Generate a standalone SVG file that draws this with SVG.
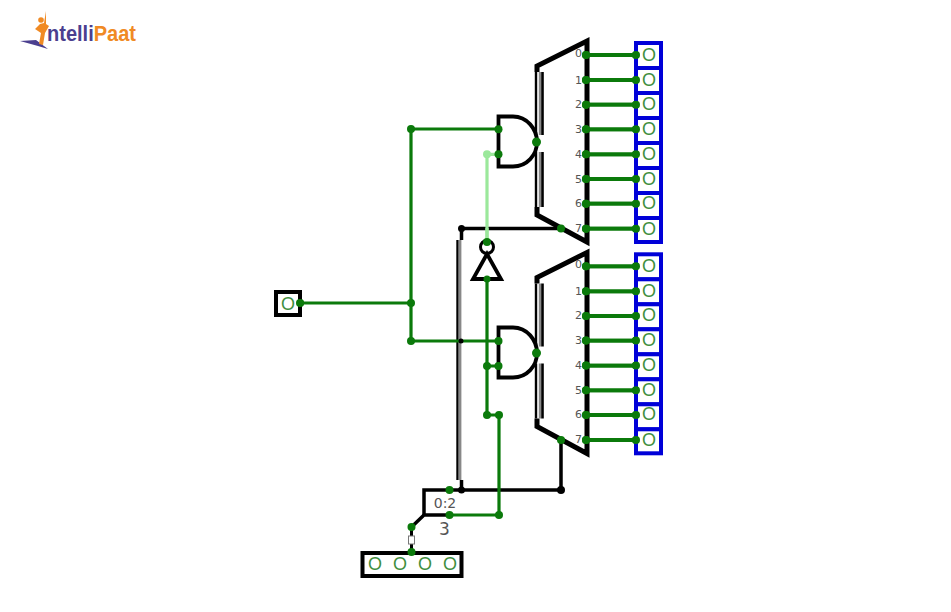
<svg xmlns="http://www.w3.org/2000/svg" width="951" height="612" viewBox="0 0 951 612">
<style>
text{font-family:"DejaVu Sans","Liberation Sans",sans-serif}
.w{fill:none;stroke:#0b7a0b;stroke-width:3.200}
.wt{fill:none;stroke:#0b7a0b;stroke-width:3.800}
.lw{fill:none;stroke:#9be89b;stroke-width:3.200}
.b{fill:none;stroke:#000;stroke-width:3.500}
.g{fill:#0b7a0b}
.k{fill:#000}
.v{fill:#3f8f3f;font-size:18px;text-anchor:middle;font-family:"Liberation Sans",sans-serif}
.n{fill:#555;font-size:11px;text-anchor:end}
.out{fill:#fff;stroke:#0000d8;stroke-width:4}
.gate{fill:#fff;stroke:#000;stroke-width:3.800}
</style>
<defs>
<g id="mux">
<path d="M537 66L587 41V242L537 215Z" fill="#fff" stroke="none"/>
<path d="M537 72V66L587 41V242L537 215V207" fill="none" stroke="#000" stroke-width="5"/>
<path d="M536 72V135M536 152V207" stroke="#000" stroke-width="2.400" fill="none"/>
<path d="M540 72V135M540 152V207" stroke="#888" stroke-width="2.400" fill="none"/>
<path d="M542.500 72V135M542.500 152V207" stroke="#000" stroke-width="2.600" fill="none"/>
</g>
<g id="labels">
<text class="n" x="582" y="57">0</text><text class="n" x="582" y="84">1</text><text class="n" x="582" y="108">2</text><text class="n" x="582" y="133">3</text><text class="n" x="582" y="158">4</text><text class="n" x="582" y="183">5</text><text class="n" x="582" y="207">6</text><text class="n" x="582" y="232">7</text>
</g>
<g id="andgate">
<path class="gate" d="M498.500 116.500H513C527 116.500 537 129 537 142C537 155 527 166.500 513 166.500H498.500Z"/>
</g>
<g id="outs">
<rect class="out" x="636" y="43" width="25" height="25"/><rect class="out" x="636" y="68" width="25" height="25"/><rect class="out" x="636" y="93" width="25" height="25"/><rect class="out" x="636" y="118" width="25" height="25"/><rect class="out" x="636" y="143" width="25" height="25"/><rect class="out" x="636" y="168" width="25" height="25"/><rect class="out" x="636" y="193" width="25" height="25"/><rect class="out" x="636" y="218" width="25" height="24"/>
<text class="v" x="649" y="61">O</text><text class="v" x="649" y="86">O</text><text class="v" x="649" y="110">O</text><text class="v" x="649" y="135">O</text><text class="v" x="649" y="160">O</text><text class="v" x="649" y="185">O</text><text class="v" x="649" y="209">O</text><text class="v" x="649" y="235">O</text>
</g>
<g id="outw">
<path class="wt" d="M586 55H636M586 80H636M586 104.700H636M586 129.300H636M586 154.300H636M586 179H636M586 203.700H636M586 228.700H636"/>
<g class="g"><circle cx="586" cy="55" r="4"/><circle cx="636" cy="55" r="4"/><circle cx="586" cy="80" r="4"/><circle cx="636" cy="80" r="4"/><circle cx="586" cy="104.700" r="4"/><circle cx="636" cy="104.700" r="4"/><circle cx="586" cy="129.300" r="4"/><circle cx="636" cy="129.300" r="4"/><circle cx="586" cy="154.300" r="4"/><circle cx="636" cy="154.300" r="4"/><circle cx="586" cy="179" r="4"/><circle cx="636" cy="179" r="4"/><circle cx="586" cy="203.700" r="4"/><circle cx="636" cy="203.700" r="4"/><circle cx="586" cy="228.700" r="4"/><circle cx="636" cy="228.700" r="4"/></g>
</g>
</defs>

<g id="logo">
<path d="M20 41L36 40L48 49L38 46Z" fill="#4b3f8f"/>
<path d="M46 11L46 24L49 26L45 33L43 45L39 44L41 33L35 29L40 24L44 23Z" fill="#f08a24"/>
<circle cx="41" cy="20" r="2.800" fill="#f08a24"/>
<text x="47" y="41" style="font-family:'Liberation Sans',sans-serif;font-weight:700;font-size:22px" textLength="89" lengthAdjust="spacingAndGlyphs"><tspan fill="#4b3f8f">ntelli</tspan><tspan fill="#f08a24">Paat</tspan></text>
</g>

<g id="mux-a"><use href="#mux"/><use href="#labels"/></g>
<g id="mux-b"><use href="#mux" transform="translate(0,211.500)"/><use href="#labels" transform="translate(0,211)"/></g>

<g id="connectors">
<path class="b" d="M461.500 240V228.500H561"/>
<path d="M457.500 240V480" stroke="#000" stroke-width="2.400" fill="none"/>
<path d="M460 240V480" stroke="#888" stroke-width="2.800" fill="none"/>
<path class="b" d="M461.500 480V490M561 440V490M424 515H450M424 515L411.500 527"/>
<path class="b" d="M424 515V490H561"/>
<path class="w" d="M300 303H411M411 129V341M411 129H498M411 341H498"/>
<path class="lw" d="M487 154.300H498M487 154.300V242"/>
<path class="w" d="M487 279V415H499M487 366H498M449.500 515H499V415"/>
<path d="M411.500 527V552" stroke="#000" stroke-width="3" fill="none"/>
<rect x="408.500" y="536" width="6" height="8" fill="#fff" stroke="#777" stroke-width="1"/>
<circle class="k" cx="461.500" cy="228.500" r="3.500"/>
<circle class="k" cx="461.500" cy="490" r="3.500"/>
<circle class="k" cx="561" cy="490" r="4"/>
<circle class="k" cx="461" cy="341" r="2.500"/>
<g class="g">
<circle cx="300" cy="303" r="4"/><circle cx="411" cy="303" r="4"/><circle cx="411" cy="129" r="4"/><circle cx="411" cy="341" r="4"/>
<circle cx="561" cy="228.500" r="4"/><circle cx="561" cy="440" r="4"/>
<circle cx="487" cy="366" r="4"/><circle cx="487" cy="415" r="4"/><circle cx="499" cy="415" r="4"/><circle cx="499" cy="515" r="4"/>
<circle cx="449.500" cy="490" r="4"/><circle cx="449.500" cy="515" r="4"/><circle cx="411.500" cy="527" r="4"/>
</g>
<circle cx="487" cy="154.300" r="4" fill="#9be89b"/>
<use href="#outw"/>
<use href="#outw" transform="translate(0,211.300)"/>
</g>

<g id="and-a"><use href="#andgate"/><circle class="g" cx="498.500" cy="129.300" r="4"/><circle class="g" cx="498.500" cy="154.300" r="4"/><circle class="g" cx="536.500" cy="142" r="4.500"/></g>
<g id="and-b"><use href="#andgate" transform="translate(0,211)"/><circle class="g" cx="498.500" cy="341" r="4"/><circle class="g" cx="498.500" cy="366" r="4"/><circle class="g" cx="536.500" cy="353" r="4.500"/></g>

<g id="not">
<circle cx="487" cy="247" r="6.500" fill="#fff" stroke="#000" stroke-width="3"/>
<path d="M487 254L473 279H501Z" fill="#fff" stroke="#000" stroke-width="3.800"/>
<path class="lw" d="M487 228V240"/>
<circle class="g" cx="487" cy="242" r="4"/><circle class="g" cx="487" cy="279" r="3.500"/>
</g>

<g id="out-a"><use href="#outs"/></g>
<g id="out-b"><use href="#outs" transform="translate(0,211.300)"/></g>
<g id="out-dots"><use href="#outw"/><use href="#outw" transform="translate(0,211.300)"/></g>

<g id="input">
<rect x="276" y="292" width="24" height="23" fill="#fff" stroke="#000" stroke-width="4"/>
<text class="v" x="288" y="309.500">O</text>
<circle class="g" cx="300" cy="303" r="4"/>
</g>

<g id="splitter">
<text x="445" y="508" text-anchor="middle" font-size="14" fill="#555">0:2</text>
<text x="444.500" y="535" text-anchor="middle" font-size="17" fill="#555">3</text>
</g>

<g id="bus-input">
<rect x="362.500" y="553" width="99" height="23" fill="#fff" stroke="#000" stroke-width="4"/>
<text class="v" x="375" y="570">O</text><text class="v" x="400" y="570">O</text><text class="v" x="425" y="570">O</text><text class="v" x="450" y="570">O</text>
<circle class="g" cx="411.500" cy="552" r="4"/>
</g>
</svg>
